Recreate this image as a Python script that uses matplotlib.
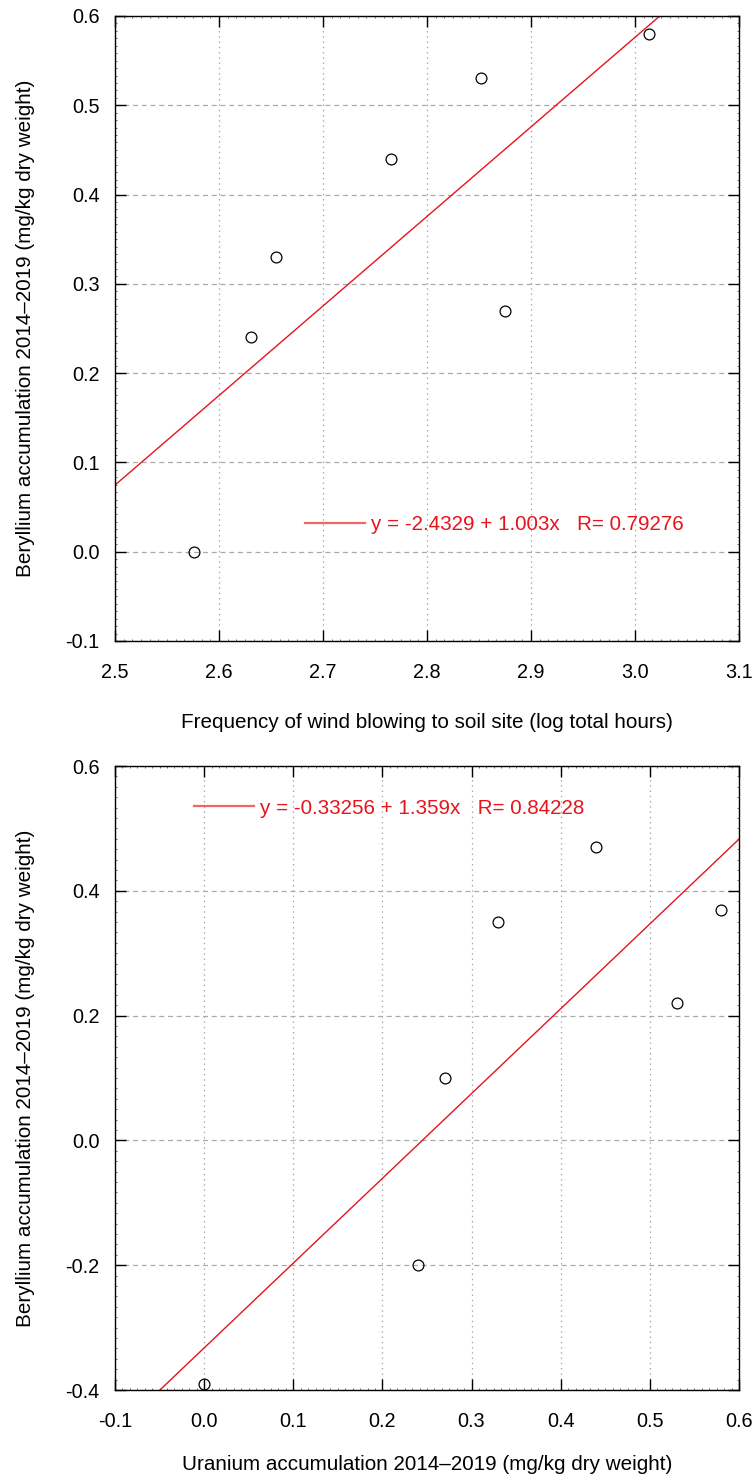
import matplotlib
matplotlib.use('Agg')
from matplotlib import pyplot as plt
from matplotlib.ticker import MultipleLocator
import numpy as np

plt.rcParams['font.family'] = ['Liberation Sans', 'DejaVu Sans']

# top panel: wind frequency vs Be accumulation
wind_x = [2.576, 2.631, 2.655, 2.765, 2.852, 2.875, 3.013]
be_y_top = [0.0, 0.24, 0.33, 0.44, 0.53, 0.27, 0.58]
fit_top = (-2.4329, 1.003)
r_top = 0.79276

# bottom panel: U accumulation vs Be accumulation
uran_x = [0.0, 0.24, 0.27, 0.33, 0.44, 0.53, 0.58]
be_y_bot = [-0.39, -0.2, 0.1, 0.35, 0.47, 0.22, 0.37]
fit_bot = (-0.33256, 1.359)
r_bot = 0.84228

ylab = 'Beryllium accumulation 2014\u20132019 (mg/kg dry weight)'
xlab_top = 'Frequency of wind blowing to soil site (log total hours)'
xlab_bot = 'Uranium accumulation 2014\u20132019 (mg/kg dry weight)'

fig = plt.figure(figsize=(7.55, 14.8), dpi=100)
ax1 = fig.add_axes([0.1523, 0.5669, 0.8265, 0.4223])
ax2 = fig.add_axes([0.1523, 0.0608, 0.8265, 0.4216])


def panel(ax, x, y, fit, r, xlim, ylim, xstep, ystep, xlabel, leg_xy, fmt_a, xpad):
    ax.set_xlim(xlim)
    ax.set_ylim(ylim)
    ax.xaxis.set_major_locator(MultipleLocator(xstep))
    ax.yaxis.set_major_locator(MultipleLocator(ystep))
    ax.xaxis.set_minor_locator(MultipleLocator(xstep / 12))
    ax.yaxis.set_minor_locator(MultipleLocator(ystep / 12))
    ax.xaxis.set_major_formatter(lambda v, p: f'{v:.1f}')
    ax.yaxis.set_major_formatter(lambda v, p: f'{v:.1f}')
    # grid: dashed horizontal, dotted vertical
    ax.grid(True, axis='y', color='#aaaaaa', linestyle=(0, (4, 3)), linewidth=0.9)
    ax.grid(True, axis='x', color='#aaaaaa', linestyle=(0, (1.2, 3)), linewidth=0.9)
    ax.set_axisbelow(True)
    ax.tick_params(which='major', direction='in', length=8, width=1,
                   top=True, right=True, labelsize=14.3)
    ax.tick_params(which='minor', direction='in', length=1.5, width=0.6,
                   top=True, right=True, color='#555555')
    ax.tick_params(axis='x', which='major', pad=16)
    ax.tick_params(axis='y', which='major', pad=11)
    for s in ax.spines.values():
        s.set_linewidth(1.0)

    a, b = fit
    xs = np.array(xlim)
    lbl = f'y = {fmt_a} + {b:.3f}x   R= {r}'
    ax.plot(xs, a + b * xs, color='#e8141c', linewidth=1.0, label=lbl)
    ax.plot(x, y, linestyle='none', marker='o', markersize=7.8,
            markerfacecolor='none', markeredgecolor='black', markeredgewidth=0.9)

    ax.set_xlabel(xlabel, fontsize=14.9, labelpad=xpad)
    ax.set_ylabel(ylab, fontsize=14.9, labelpad=22)
    leg = ax.legend(loc='center left', bbox_to_anchor=leg_xy, frameon=False,
                    handlelength=2.9, handletextpad=0.3, borderpad=0,
                    borderaxespad=0, fontsize=14.9, labelcolor='#e8141c')
    for h in leg.get_lines():
        h.set_alpha(0.65)
        h.set_linewidth(1.6)


panel(ax1, wind_x, be_y_top, fit_top, r_top, (2.5, 3.1), (-0.1, 0.6), 0.1, 0.1,
      xlab_top, (0.3045, 0.1856), '-2.4329', 22)
panel(ax2, uran_x, be_y_bot, fit_bot, r_bot, (-0.1, 0.6), (-0.4, 0.6), 0.1, 0.2,
      xlab_bot, (0.1266, 0.9327), '-0.33256', 17)
ax2.yaxis.set_minor_locator(MultipleLocator(0.2 / 12))

fig.savefig('out.png', dpi=100)
